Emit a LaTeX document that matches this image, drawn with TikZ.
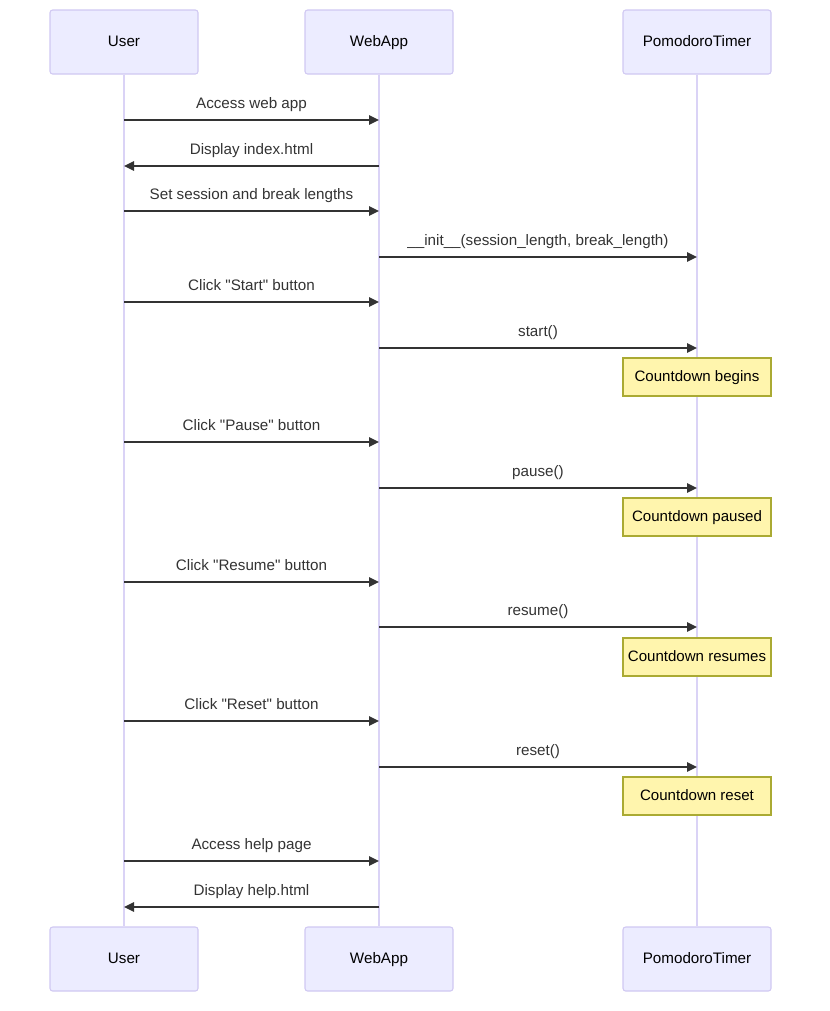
\documentclass[tikz,border=0pt]{standalone}
\usepackage{fontspec}
\setmainfont{Liberation Sans}[Ligatures=TeXOff]
\usetikzlibrary{positioning, arrows.meta, backgrounds}
\definecolor{actfill}{HTML}{ECECFF}
\definecolor{actline}{HTML}{D0C8F2}
\definecolor{lifeln}{HTML}{DAD3F6}
\definecolor{notefill}{HTML}{FFF5AD}
\definecolor{noteline}{HTML}{AAAA33}
\definecolor{msgline}{HTML}{333333}

\begin{document}
\begin{tikzpicture}[x=0.75pt, y=-0.75pt,
    actor/.style={draw=actline, fill=actfill, line width=0.8pt, rounded corners=2pt,
      minimum width=111pt, minimum height=48pt, text height=8.5pt, text depth=2.5pt,
      font=\fontsize{11.4}{13}\selectfont},
    notebox/.style={draw=noteline, fill=notefill, line width=0.8pt, inner xsep=1pt,
      minimum width=111pt, minimum height=28.5pt, text height=8.5pt, text depth=2.5pt,
      font=\fontsize{11.3}{13}\selectfont},
    msg/.style={draw=msgline, line width=1.2pt, -{Triangle[length=7.5pt, width=7pt]}},
    lbl/.style={anchor=base, yshift=8.5pt, text=msgline, font=\fontsize{11.4}{13}\selectfont},
    life/.style={draw=lifeln, line width=1.1pt}]
    \useasboundingbox (0,0) rectangle (829,1011);
    % actors
    \node[actor] (userT) at (124,42) {User};
    \node[actor] (webT) at (379,42) {WebApp};
    \node[actor] (timerT) at (697,42) {PomodoroTimer};
    \node[actor] (userB) at (124,959) {User};
    \node[actor] (webB) at (379,959) {WebApp};
    \node[actor] (timerB) at (697,959) {PomodoroTimer};
    % lifelines
    \begin{pgfonlayer}{background}
    \draw[life] (userT) -- (userB);
    \draw[life] (webT) -- (webB);
    \draw[life] (timerT) -- (timerB);
    \end{pgfonlayer}
    % message points
    \coordinate (u1) at (124,120); \coordinate (w1) at (379,120);
    \coordinate (u2) at (124,166); \coordinate (w2) at (379,166);
    \coordinate (u3) at (124,211); \coordinate (w3) at (379,211);
    \coordinate (w4) at (379,257); \coordinate (t4) at (697,257);
    \coordinate (u5) at (124,302); \coordinate (w5) at (379,302);
    \coordinate (w6) at (379,348); \coordinate (t6) at (697,348);
    \coordinate (u7) at (124,442); \coordinate (w7) at (379,442);
    \coordinate (w8) at (379,488); \coordinate (t8) at (697,488);
    \coordinate (u9) at (124,582); \coordinate (w9) at (379,582);
    \coordinate (w10) at (379,627); \coordinate (t10) at (697,627);
    \coordinate (u11) at (124,721); \coordinate (w11) at (379,721);
    \coordinate (w12) at (379,767); \coordinate (t12) at (697,767);
    \coordinate (u13) at (124,861); \coordinate (w13) at (379,861);
    \coordinate (u14) at (124,907); \coordinate (w14) at (379,907);
    % messages
    \draw[msg] (u1) -- node[lbl] {Access web app} (w1);
    \draw[msg] (w2) -- node[lbl] {Display index.html} (u2);
    \draw[msg] (u3) -- node[lbl] {Set session and break lengths} (w3);
    \draw[msg] (w4) -- node[lbl] {\_\_init\_\_(session\_length, break\_length)} (t4);
    \draw[msg] (u5) -- node[lbl] {Click "Start" button} (w5);
    \draw[msg] (w6) -- node[lbl] {start()} (t6);
    \node[notebox] (beginsN) at (697,377) {Countdown begins};
    \draw[msg] (u7) -- node[lbl] {Click "Pause" button} (w7);
    \draw[msg] (w8) -- node[lbl] {pause()} (t8);
    \node[notebox] (pausedN) at (697,517) {Countdown paused};
    \draw[msg] (u9) -- node[lbl] {Click "Resume" button} (w9);
    \draw[msg] (w10) -- node[lbl] {resume()} (t10);
    \node[notebox] (resumesN) at (697,657) {Countdown resumes};
    \draw[msg] (u11) -- node[lbl] {Click "Reset" button} (w11);
    \draw[msg] (w12) -- node[lbl] {reset()} (t12);
    \node[notebox] (resetN) at (697,796) {Countdown reset};
    \draw[msg] (u13) -- node[lbl] {Access help page} (w13);
    \draw[msg] (w14) -- node[lbl] {Display help.html} (u14);
\end{tikzpicture}
\end{document}
